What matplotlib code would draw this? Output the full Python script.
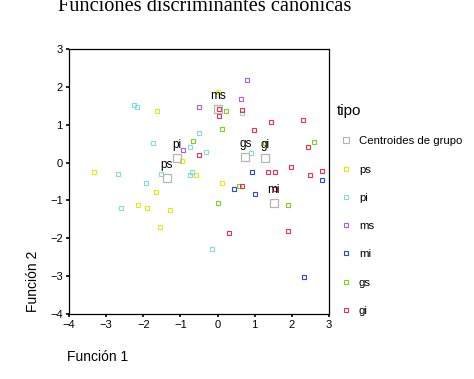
import matplotlib
matplotlib.use("Agg")
import matplotlib.pyplot as plt
from matplotlib.lines import Line2D

# group scores on the two discriminant functions
ps_x = [-3.34, -1.64, 0.00, -0.97, -1.67, -2.13, -1.89, -1.27, -1.54, -0.59, 0.11]
ps_y = [-0.26, 1.35, 1.87, 0.05, -0.77, -1.13, -1.21, -1.24, -1.69, -0.34, -0.55]

pi_x = [-2.24, -2.18, -1.75, -0.73, -0.49, -0.32, 0.65, 0.89, -2.67, -1.51, -1.94, -2.61, -0.75, -0.70, -0.16]
pi_y = [1.53, 1.48, 0.53, 0.40, 0.77, 0.29, 1.32, 0.24, -0.29, -0.29, -0.53, -1.19, -0.34, -0.26, -2.27]

ms_x = [0.78, 0.62, -0.51, -0.92]
ms_y = [2.19, 1.69, 1.48, 0.32]

mi_x = [0.92, 0.43, 1.02, 2.80, 2.32]
mi_y = [-0.26, -0.69, -0.82, -0.47, -3.03]

gs_x = [0.22, 0.13, -0.67, 1.29, 2.61, 0.00, 0.59, 1.89]
gs_y = [1.37, 0.90, 0.58, 0.53, 0.55, -1.06, -0.61, -1.11]

gi_x = [0.03, 0.03, 0.67, 1.43, 0.97, 2.29, 2.43, -0.49, 1.97, 1.35, 1.54, 2.48, 2.80, 0.67, 1.56, 0.32, 1.91]
gi_y = [1.42, 1.24, 1.40, 1.08, 0.87, 1.13, 0.42, 0.21, -0.13, -0.26, -0.26, -0.32, -0.21, -0.61, -0.69, -1.87, -1.82]

groups = ["ps", "pi", "ms", "mi", "gs", "gi"]
cent_x = [-1.37, -1.10, 0.00, 1.51, 0.75, 1.29]
cent_y = [-0.40, 0.11, 1.42, -1.06, 0.16, 0.11]

colors = {"ps": "#e8e810", "pi": "#7fdede", "ms": "#b455f0",
          "mi": "#2846e6", "gs": "#7ad21e", "gi": "#e8324a"}
points = {"ps": (ps_x, ps_y), "pi": (pi_x, pi_y), "ms": (ms_x, ms_y),
          "mi": (mi_x, mi_y), "gs": (gs_x, gs_y), "gi": (gi_x, gi_y)}

fig = plt.figure(figsize=(4.74, 3.79), dpi=100)
ax = fig.add_axes([0.1456, 0.1715, 0.5484, 0.6992])

for g in groups:
    x, y = points[g]
    ax.plot(x, y, 's', ms=2.8, mfc='none', mec=colors[g], mew=0.8)

ax.plot(cent_x, cent_y, 's', ms=6, mfc='none', mec='#b4b4b4', mew=0.9)
for g, cx, cy in zip(groups, cent_x, cent_y):
    ax.annotate(g, (cx, cy), xytext=(0, 5), textcoords='offset points',
                ha='center', va='bottom', fontsize=8.5, family='Liberation Sans')

ax.set_xlim(-4, 3)
ax.set_ylim(-4, 3)
ax.set_xticks(range(-4, 4))
ax.set_yticks(range(-4, 4))
ax.tick_params(direction='out', length=2.5, width=1.2, labelsize=8, pad=2)
for lab in ax.get_xticklabels() + ax.get_yticklabels():
    lab.set_family('Liberation Sans')
for sp in ax.spines.values():
    sp.set_linewidth(0.9)

# title is partly cut off at the top in the original
fig.text(0.431, 0.971, "Funciones discriminantes canónicas", ha='center',
         va='baseline', fontsize=14.7, family='Liberation Serif')
fig.text(0.07, 0.257, "Función 2", rotation=90, ha='center', va='center',
         fontsize=10, family='Liberation Sans')
fig.text(0.141, 0.058, "Función 1", ha='left', va='center',
         fontsize=10, family='Liberation Sans')

handles = [Line2D([], [], ls='none', marker='s', ms=5, mfc='none', mec='#b4b4b4', mew=0.8)]
labels = ["Centroides de grupo"]
for g in groups:
    handles.append(Line2D([], [], ls='none', marker='s', ms=2.8, mfc='none',
                          mec=colors[g], mew=0.8))
    labels.append(g)
leg = ax.legend(handles, labels, title="tipo", loc='upper left',
                bbox_to_anchor=(0.702, 0.737), bbox_transform=fig.transFigure,
                frameon=False, prop={'family': 'Liberation Sans', 'size': 8.2},
                labelspacing=1.6, handlelength=1.6, handletextpad=0.3,
                alignment='left', borderaxespad=0)
leg.get_title().set_fontsize(11)
leg.get_title().set_family('Liberation Sans')

fig.savefig("out.png", dpi=100)
